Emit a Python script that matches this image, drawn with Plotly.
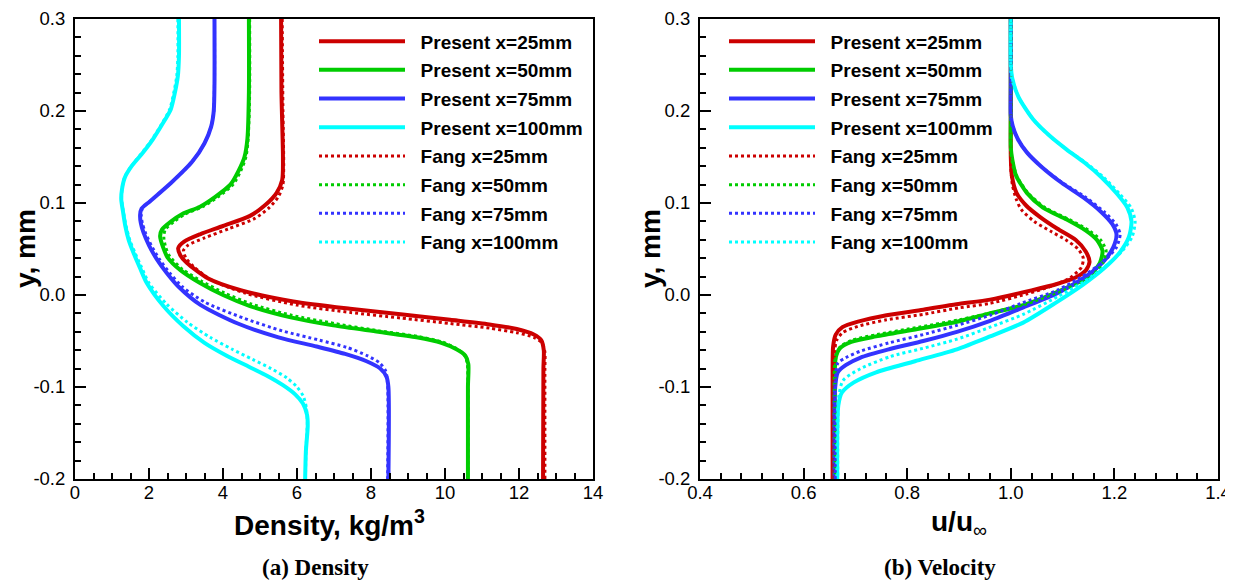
import plotly.graph_objects as go

# ---------------- DATA ----------------
# Density panel (x = density kg/m^3, y = mm)
rho_p25_x = [5.57, 5.58, 5.62, 5.60, 5.45, 5.15, 4.73, 4.00, 3.38, 2.95, 2.79, 2.85, 3.02, 3.60, 4.50, 5.90, 7.43, 8.80, 10.14, 11.20, 11.94, 12.40, 12.60, 12.67, 12.66, 12.65]
rho_p25_y = [0.300, 0.220, 0.150, 0.125, 0.111, 0.098, 0.086, 0.075, 0.066, 0.058, 0.051, 0.043, 0.035, 0.018, 0.005, -0.007, -0.015, -0.021, -0.027, -0.032, -0.037, -0.043, -0.049, -0.060, -0.080, -0.200]
rho_f25_x = [5.60, 5.62, 5.64, 5.62, 5.50, 5.25, 4.85, 4.15, 3.50, 3.05, 2.93, 3.00, 3.20, 3.70, 4.60, 6.00, 7.45, 8.80, 10.14, 11.20, 11.94, 12.40, 12.62, 12.70, 12.70, 12.70]
rho_f25_y = [0.300, 0.200, 0.140, 0.120, 0.107, 0.095, 0.083, 0.072, 0.062, 0.054, 0.048, 0.040, 0.031, 0.016, 0.002, -0.011, -0.019, -0.025, -0.031, -0.036, -0.041, -0.046, -0.052, -0.062, -0.080, -0.200]

rho_p50_x = [4.70, 4.70, 4.66, 4.58, 4.42, 4.20, 3.80, 3.38, 2.90, 2.60, 2.35, 2.30, 2.38, 2.50, 2.85, 3.38, 4.00, 4.73, 5.80, 6.98, 8.20, 9.23, 9.90, 10.31, 10.55, 10.63, 10.62, 10.62]
rho_p50_y = [0.300, 0.220, 0.170, 0.150, 0.135, 0.120, 0.107, 0.096, 0.088, 0.080, 0.071, 0.064, 0.052, 0.041, 0.027, 0.013, 0.000, -0.012, -0.024, -0.033, -0.040, -0.046, -0.052, -0.059, -0.066, -0.075, -0.100, -0.200]
rho_f50_x = [4.72, 4.72, 4.68, 4.62, 4.48, 4.27, 3.88, 3.45, 2.98, 2.68, 2.44, 2.40, 2.45, 2.56, 2.90, 3.42, 4.05, 4.78, 5.85, 7.02, 8.22, 9.25, 9.92, 10.30, 10.52, 10.60, 10.62, 10.62]
rho_f50_y = [0.300, 0.220, 0.170, 0.150, 0.135, 0.120, 0.107, 0.096, 0.088, 0.080, 0.071, 0.063, 0.052, 0.042, 0.028, 0.015, 0.002, -0.010, -0.022, -0.031, -0.039, -0.045, -0.051, -0.058, -0.065, -0.074, -0.100, -0.200]

rho_p75_x = [3.77, 3.77, 3.75, 3.68, 3.50, 3.17, 2.60, 2.03, 1.80, 1.76, 1.78, 1.85, 2.00, 2.21, 2.48, 2.80, 3.40, 4.40, 5.50, 6.53, 7.30, 7.88, 8.25, 8.42, 8.47, 8.47]
rho_p75_y = [0.300, 0.230, 0.200, 0.183, 0.165, 0.145, 0.122, 0.102, 0.094, 0.087, 0.078, 0.068, 0.054, 0.039, 0.024, 0.009, -0.011, -0.031, -0.046, -0.056, -0.064, -0.072, -0.080, -0.089, -0.100, -0.200]
rho_f75_x = [3.77, 3.77, 3.75, 3.68, 3.50, 3.17, 2.60, 2.03, 1.82, 1.79, 1.82, 1.90, 2.06, 2.28, 2.56, 2.90, 3.52, 4.55, 5.60, 6.60, 7.35, 7.90, 8.24, 8.40, 8.45, 8.45]
rho_f75_y = [0.300, 0.230, 0.200, 0.183, 0.165, 0.145, 0.122, 0.102, 0.094, 0.087, 0.078, 0.068, 0.054, 0.039, 0.024, 0.009, -0.008, -0.025, -0.039, -0.049, -0.057, -0.066, -0.074, -0.083, -0.098, -0.200]

rho_p100_x = [2.81, 2.81, 2.78, 2.70, 2.59, 2.35, 2.10, 1.80, 1.53, 1.35, 1.27, 1.25, 1.30, 1.36, 1.45, 1.58, 1.75, 1.94, 2.39, 2.93, 3.50, 4.10, 4.70, 5.20, 5.62, 5.95, 6.16, 6.27, 6.29, 6.24, 6.22]
rho_p100_y = [0.300, 0.260, 0.238, 0.220, 0.202, 0.185, 0.169, 0.153, 0.140, 0.128, 0.115, 0.104, 0.090, 0.075, 0.060, 0.046, 0.030, 0.013, -0.012, -0.034, -0.052, -0.066, -0.078, -0.088, -0.098, -0.108, -0.118, -0.130, -0.142, -0.170, -0.200]
rho_f100_x = [2.78, 2.78, 2.75, 2.67, 2.56, 2.33, 2.08, 1.78, 1.52, 1.34, 1.27, 1.26, 1.31, 1.38, 1.48, 1.62, 1.80, 2.00, 2.48, 3.05, 3.65, 4.25, 4.80, 5.30, 5.72, 6.00, 6.17, 6.25, 6.28, 6.24, 6.23]
rho_f100_y = [0.300, 0.260, 0.238, 0.220, 0.202, 0.185, 0.169, 0.153, 0.140, 0.128, 0.115, 0.104, 0.090, 0.075, 0.060, 0.046, 0.030, 0.013, -0.010, -0.030, -0.046, -0.059, -0.070, -0.080, -0.090, -0.100, -0.110, -0.122, -0.138, -0.170, -0.200]

# Velocity panel (x = u/u_inf, y = mm)
vel_p25_x = [1.000, 1.000, 1.000, 1.002, 1.011, 1.030, 1.056, 1.090, 1.125, 1.145, 1.152, 1.145, 1.125, 1.089, 1.040, 0.960, 0.895, 0.831, 0.760, 0.705, 0.675, 0.662, 0.657, 0.656, 0.656]
vel_p25_y = [0.300, 0.200, 0.150, 0.130, 0.111, 0.097, 0.085, 0.072, 0.060, 0.047, 0.036, 0.027, 0.019, 0.012, 0.005, -0.005, -0.010, -0.016, -0.022, -0.029, -0.035, -0.043, -0.056, -0.080, -0.200]
vel_f25_x = [1.000, 1.000, 1.000, 1.003, 1.010, 1.020, 1.045, 1.078, 1.106, 1.130, 1.140, 1.136, 1.115, 1.080, 1.030, 0.960, 0.900, 0.831, 0.760, 0.705, 0.675, 0.664, 0.660, 0.659, 0.659]
vel_f25_y = [0.300, 0.200, 0.140, 0.120, 0.105, 0.093, 0.080, 0.069, 0.060, 0.050, 0.040, 0.030, 0.019, 0.010, 0.001, -0.009, -0.014, -0.021, -0.027, -0.034, -0.041, -0.049, -0.060, -0.080, -0.200]

vel_p50_x = [1.000, 1.000, 1.000, 1.003, 1.010, 1.031, 1.062, 1.108, 1.145, 1.166, 1.177, 1.172, 1.150, 1.100, 1.024, 0.960, 0.896, 0.820, 0.740, 0.692, 0.670, 0.662, 0.660, 0.660]
vel_p50_y = [0.300, 0.200, 0.160, 0.147, 0.130, 0.111, 0.095, 0.082, 0.070, 0.060, 0.048, 0.035, 0.020, 0.006, -0.011, -0.020, -0.029, -0.037, -0.045, -0.051, -0.058, -0.068, -0.090, -0.200]
vel_f50_x = [1.000, 1.000, 1.000, 1.003, 1.011, 1.033, 1.066, 1.113, 1.151, 1.173, 1.184, 1.178, 1.155, 1.104, 1.028, 0.964, 0.900, 0.822, 0.742, 0.694, 0.671, 0.663, 0.661, 0.661]
vel_f50_y = [0.300, 0.200, 0.160, 0.147, 0.130, 0.111, 0.095, 0.082, 0.070, 0.060, 0.048, 0.035, 0.020, 0.006, -0.010, -0.019, -0.027, -0.035, -0.043, -0.049, -0.056, -0.066, -0.090, -0.200]

vel_p75_x = [1.000, 1.000, 1.000, 1.004, 1.014, 1.031, 1.058, 1.098, 1.140, 1.175, 1.196, 1.204, 1.198, 1.180, 1.147, 1.090, 1.022, 0.960, 0.896, 0.831, 0.765, 0.710, 0.682, 0.666, 0.661, 0.660]
vel_p75_y = [0.300, 0.230, 0.195, 0.183, 0.169, 0.155, 0.140, 0.122, 0.106, 0.090, 0.077, 0.066, 0.052, 0.037, 0.021, 0.002, -0.014, -0.028, -0.040, -0.050, -0.059, -0.068, -0.076, -0.084, -0.100, -0.200]
vel_f75_x = [1.000, 1.000, 1.000, 1.004, 1.014, 1.031, 1.058, 1.100, 1.145, 1.181, 1.203, 1.211, 1.204, 1.182, 1.146, 1.089, 1.020, 0.960, 0.896, 0.831, 0.765, 0.710, 0.682, 0.666, 0.661, 0.661]
vel_f75_y = [0.300, 0.230, 0.195, 0.183, 0.169, 0.155, 0.140, 0.122, 0.106, 0.090, 0.077, 0.066, 0.052, 0.038, 0.023, 0.005, -0.009, -0.022, -0.033, -0.043, -0.052, -0.061, -0.068, -0.074, -0.095, -0.200]

vel_p100_x = [1.000, 1.000, 1.003, 1.015, 1.043, 1.075, 1.108, 1.142, 1.175, 1.205, 1.225, 1.233, 1.228, 1.210, 1.180, 1.139, 1.088, 1.024, 0.960, 0.896, 0.815, 0.740, 0.697, 0.674, 0.667, 0.665, 0.665]
vel_p100_y = [0.300, 0.250, 0.235, 0.215, 0.191, 0.173, 0.158, 0.144, 0.128, 0.110, 0.095, 0.080, 0.063, 0.046, 0.029, 0.011, -0.008, -0.030, -0.045, -0.059, -0.072, -0.084, -0.095, -0.106, -0.120, -0.150, -0.200]
vel_f100_x = [1.000, 1.000, 1.003, 1.015, 1.043, 1.075, 1.108, 1.144, 1.179, 1.210, 1.232, 1.240, 1.234, 1.214, 1.182, 1.140, 1.090, 1.024, 0.960, 0.896, 0.830, 0.767, 0.710, 0.676, 0.668, 0.666, 0.666]
vel_f100_y = [0.300, 0.250, 0.235, 0.215, 0.191, 0.173, 0.158, 0.144, 0.128, 0.110, 0.095, 0.080, 0.063, 0.047, 0.031, 0.014, -0.002, -0.021, -0.035, -0.048, -0.058, -0.067, -0.080, -0.093, -0.110, -0.150, -0.200]

stations = ["x=25mm", "x=50mm", "x=75mm", "x=100mm"]
colors = ["#cc0000", "#00cc00", "#3333ff", "#00ffff"]
y_ticks = [-0.2, -0.1, 0.0, 0.1, 0.2, 0.3]
y_ticktext = ["-0.2", "-0.1", "0.0", "0.1", "0.2", "0.3"]
rho_ticks = [0, 2, 4, 6, 8, 10, 12, 14]
vel_ticks = [0.4, 0.6, 0.8, 1.0, 1.2, 1.4]
vel_ticktext = ["0.4", "0.6", "0.8", "1.0", "1.2", "1.4"]

rho_present = [(rho_p25_x, rho_p25_y), (rho_p50_x, rho_p50_y), (rho_p75_x, rho_p75_y), (rho_p100_x, rho_p100_y)]
rho_fang = [(rho_f25_x, rho_f25_y), (rho_f50_x, rho_f50_y), (rho_f75_x, rho_f75_y), (rho_f100_x, rho_f100_y)]
vel_present = [(vel_p25_x, vel_p25_y), (vel_p50_x, vel_p50_y), (vel_p75_x, vel_p75_y), (vel_p100_x, vel_p100_y)]
vel_fang = [(vel_f25_x, vel_f25_y), (vel_f50_x, vel_f50_y), (vel_f75_x, vel_f75_y), (vel_f100_x, vel_f100_y)]

# ---------------- FIGURE ----------------
# the page adds an 8 px body margin, so the figure is 8 px smaller and positions are target pixels minus 8
W, H = 1225, 572
T, B = 11, 101
fig = go.Figure()
PAD = "\u00a0\u00a0"

def add_set(present, fang, xa, ya, leg, tag):
    for i, (xs, ys) in enumerate(present):
        fig.add_trace(go.Scatter(x=xs, y=ys, mode="lines", xaxis=xa, yaxis=ya,
                                 line=dict(color=colors[i], width=4, shape="spline", smoothing=0.7),
                                 name=PAD + "<b>Present " + stations[i] + "</b>",
                                 legend=leg, legendgroup=tag + "p" + str(i)))
    for i, (xs, ys) in enumerate(fang):
        fig.add_trace(go.Scatter(x=xs, y=ys, mode="lines", xaxis=xa, yaxis=ya,
                                 line=dict(color=colors[i], width=3, dash="dot", shape="spline", smoothing=0.7),
                                 name=PAD + "<b>Fang " + stations[i] + "</b>",
                                 legend=leg, legendgroup=tag + "f" + str(i)))

add_set(rho_present, rho_fang, "x", "y", "legend", "a")
add_set(vel_present, vel_fang, "x2", "y2", "legend2", "b")

tickfont = dict(family="Liberation Sans, Arial, sans-serif", size=18.5, color="black")
common_axis = dict(showgrid=False, zeroline=False, showline=True, linecolor="black", linewidth=2,
                   mirror=True, ticks="inside", ticklen=11, tickwidth=1.5, tickcolor="black",
                   tickfont=tickfont, automargin=False)

legend_common = dict(xanchor="left", yanchor="top", bgcolor="rgba(0,0,0,0)", borderwidth=0,
                     font=dict(family="Liberation Sans, Arial, sans-serif", size=19, color="black"),
                     itemwidth=86, tracegroupgap=1, traceorder="grouped")

minor_x1 = dict(dtick=0.5, ticklen=6, tickwidth=1.5, tickcolor="black", ticks="inside")
minor_x2 = dict(dtick=0.04, ticklen=6, tickwidth=1.5, tickcolor="black", ticks="inside")
minor_y = dict(dtick=0.02, ticklen=6, tickwidth=1.5, tickcolor="black", ticks="inside")

plot_h = H - T - B
fig.update_layout(
    width=W, height=H,
    margin=dict(l=0, r=0, t=T, b=B, autoexpand=False),
    plot_bgcolor="white", paper_bgcolor="white",
    xaxis=dict(domain=[67 / W, 585 / W], range=[0, 14], tickvals=rho_ticks, anchor="y", minor=minor_x1,
               ticklabelstandoff=-4, **common_axis),
    yaxis=dict(domain=[0, 1], range=[-0.2, 0.3], tickvals=y_ticks, ticktext=y_ticktext, anchor="x", minor=minor_y,
               ticklabelstandoff=4, **common_axis),
    xaxis2=dict(domain=[692 / W, 1210 / W], range=[0.4, 1.4], tickvals=vel_ticks, ticktext=vel_ticktext, anchor="y2",
                minor=minor_x2, ticklabelstandoff=-4, **common_axis),
    yaxis2=dict(domain=[0, 1], range=[-0.2, 0.3], tickvals=y_ticks, ticktext=y_ticktext, anchor="x2", minor=minor_y,
                ticklabelstandoff=4, **common_axis),
    legend=dict(x=306 / W, y=1 - (14.3 - T) / plot_h, **legend_common),
    legend2=dict(x=716 / W, y=1 - (14.3 - T) / plot_h, **legend_common),
    showlegend=True,
)

title_font = dict(family="Liberation Sans, Arial, sans-serif", size=28, color="black")
cap_font = dict(family="Liberation Serif, Times New Roman, serif", size=23, color="black")

def py(pix):
    return (H - B - pix) / plot_h

annots = [
    dict(text="<b>Density, kg/m<sup>3</sup></b>", x=321 / W, y=py(515), font=title_font),
    dict(text="<b>u/u</b><sub>∞</sub>", x=951 / W, y=py(515), font=title_font),
    dict(text="<b>y, mm</b>", x=17 / W, y=py(241), font=title_font, textangle=-90),
    dict(text="<b>y, mm</b>", x=642 / W, y=py(241), font=title_font, textangle=-90),
    dict(text="<b>(a) Density</b>", x=307 / W, y=py(559), font=cap_font),
    dict(text="<b>(b) Velocity</b>", x=932 / W, y=py(559), font=cap_font),
]
for a in annots:
    fig.add_annotation(xref="paper", yref="paper", xanchor="center", yanchor="middle", showarrow=False, **a)

fig.write_html("out.html")
